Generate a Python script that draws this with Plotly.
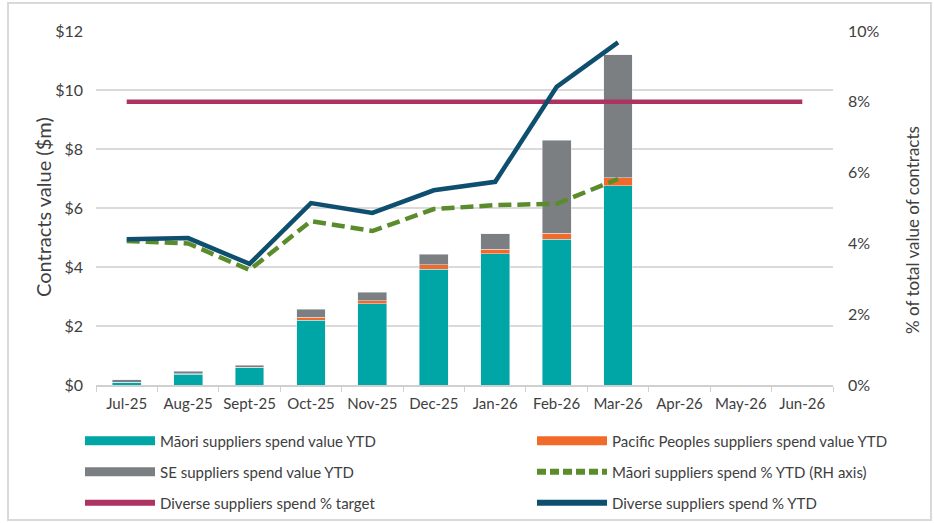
import plotly.graph_objects as go

months = ["Jul-25", "Aug-25", "Sept-25", "Oct-25", "Nov-25", "Dec-25",
          "Jan-26", "Feb-26", "Mar-26", "Apr-26", "May-26", "Jun-26"]

# Spend values YTD ($m), stacked
maori_value = [0.10, 0.37, 0.58, 2.20, 2.75, 3.92, 4.45, 4.94, 6.76]
pacific_value = [0.00, 0.02, 0.02, 0.10, 0.10, 0.15, 0.15, 0.20, 0.27]
se_value = [0.07, 0.08, 0.07, 0.26, 0.30, 0.37, 0.53, 3.16, 4.16]

# Percentages of total contract value (RH axis)
maori_pct = [0.0407, 0.0400, 0.0325, 0.0463, 0.0435, 0.0497, 0.0508, 0.0512, 0.0582]
diverse_pct = [0.0412, 0.0415, 0.0342, 0.0514, 0.0486, 0.0550, 0.0574, 0.0842, 0.0968]
target_pct = [0.08] * 12

TEAL = "#00a5a6"
ORANGE = "#f26a2a"
GREY = "#7c7f82"
GREEN = "#5a8c2c"
MAGENTA = "#ad3362"
NAVY = "#0e4f6f"
TEXT = "#404040"
FONT = "Lato, sans-serif"

n = len(maori_value)
x_data = months[:n]

fig = go.Figure()

fig.add_trace(go.Bar(x=x_data, y=maori_value, marker_color=TEAL, showlegend=False,
                     name="Māori suppliers spend value YTD"))
fig.add_trace(go.Bar(x=x_data, y=pacific_value, marker_color=ORANGE, showlegend=False,
                     name="Pacific Peoples suppliers spend value YTD"))
fig.add_trace(go.Bar(x=x_data, y=se_value, marker_color=GREY, showlegend=False,
                     name="SE suppliers spend value YTD"))

fig.add_trace(go.Scatter(x=months, y=target_pct, mode="lines", yaxis="y2",
                         line=dict(color=MAGENTA, width=4.5), showlegend=False,
                         name="Diverse suppliers spend % target"))
fig.add_trace(go.Scatter(x=x_data, y=maori_pct, mode="lines", yaxis="y2",
                         line=dict(color=GREEN, width=4.5, dash="13px,6px"), showlegend=False,
                         name="Māori suppliers spend % YTD (RH axis)"))
fig.add_trace(go.Scatter(x=x_data, y=diverse_pct, mode="lines", yaxis="y2",
                         line=dict(color=NAVY, width=4.5), showlegend=False,
                         name="Diverse suppliers spend % YTD"))

L, R, T, B = 96, 101, 31, 138
W, H = 934, 523
pw, ph = W - L - R, H - T - B


def px_x(x):
    return (x - L) / pw


def px_y(y):
    return (H - B - y) / ph


# Legend keys: wide swatches in a two-column grid (one legend box per key)
legend_keys = [
    ("Māori suppliers spend value YTD", TEAL, 9, "solid", 80, 441),
    ("Pacific Peoples suppliers spend value YTD", ORANGE, 9, "solid", 532, 441),
    ("SE suppliers spend value YTD", GREY, 9, "solid", 80, 472),
    ("Māori suppliers spend % YTD (RH axis)", GREEN, 6, "9px,4px", 532, 472),
    ("Diverse suppliers spend % target", MAGENTA, 6, "solid", 80, 503),
    ("Diverse suppliers spend % YTD", NAVY, 6, "solid", 532, 503),
]
legend_layout = {}
for i, (label, color, w, dash, lx, ly) in enumerate(legend_keys):
    key = "legend" if i == 0 else f"legend{i + 1}"
    fig.add_trace(go.Scatter(x=[None], y=[None], mode="lines", name=label,
                             line=dict(color=color, width=w, dash=dash),
                             legend=key, showlegend=True))
    legend_layout[key] = dict(orientation="h", itemwidth=70, bgcolor="rgba(0,0,0,0)",
                              font=dict(family=FONT, size=15, color=TEXT),
                              xanchor="left", yanchor="middle",
                              x=px_x(lx), y=px_y(ly))

fig.update_layout(
    width=W, height=H,
    margin=dict(l=L, r=R, t=T, b=B, autoexpand=False),
    paper_bgcolor="white", plot_bgcolor="white",
    barmode="stack", bargap=0.53,
    font=dict(family=FONT, size=15, color=TEXT),
    xaxis=dict(type="category", categoryorder="array", categoryarray=months,
               range=[-0.5, 11.5], showgrid=False, showline=True, linecolor="#d0d0d0",
               linewidth=1.5, ticks="outside", tickson="boundaries", ticklen=5,
               tickcolor="#d0d0d0", tickangle=0, automargin=False,
               ticklabelstandoff=4, tickfont=dict(size=15, color=TEXT)),
    yaxis=dict(range=[0, 12], dtick=2, tickprefix="$", showgrid=True,
               gridcolor="#dadada", gridwidth=1.5, zeroline=False, showline=False,
               ticklabelstandoff=12, tickfont=dict(size=16, color=TEXT), automargin=False),
    yaxis2=dict(range=[0, 0.10], dtick=0.02, tickformat=".0%", overlaying="y",
                side="right", showgrid=False, zeroline=False, showline=False,
                ticklabelstandoff=14, tickfont=dict(size=16, color=TEXT), automargin=False),
    annotations=[
        dict(text="Contracts value ($m)", xref="paper", yref="paper",
             x=px_x(43), y=px_y(207), textangle=-90, showarrow=False,
             xanchor="center", yanchor="middle",
             font=dict(family=FONT, size=20, color=TEXT)),
        dict(text="% of total value of contracts", xref="paper", yref="paper",
             x=px_x(912), y=px_y(230), textangle=-90, showarrow=False,
             xanchor="center", yanchor="middle",
             font=dict(family=FONT, size=17, color=TEXT)),
    ],
    shapes=[dict(type="rect", xref="paper", yref="paper",
                 x0=px_x(8), x1=px_x(931), y0=px_y(520), y1=px_y(3),
                 line=dict(color="#d9d9d9", width=2), fillcolor="rgba(0,0,0,0)",
                 layer="below")],
    **legend_layout,
)

fig.write_html("out.html")
